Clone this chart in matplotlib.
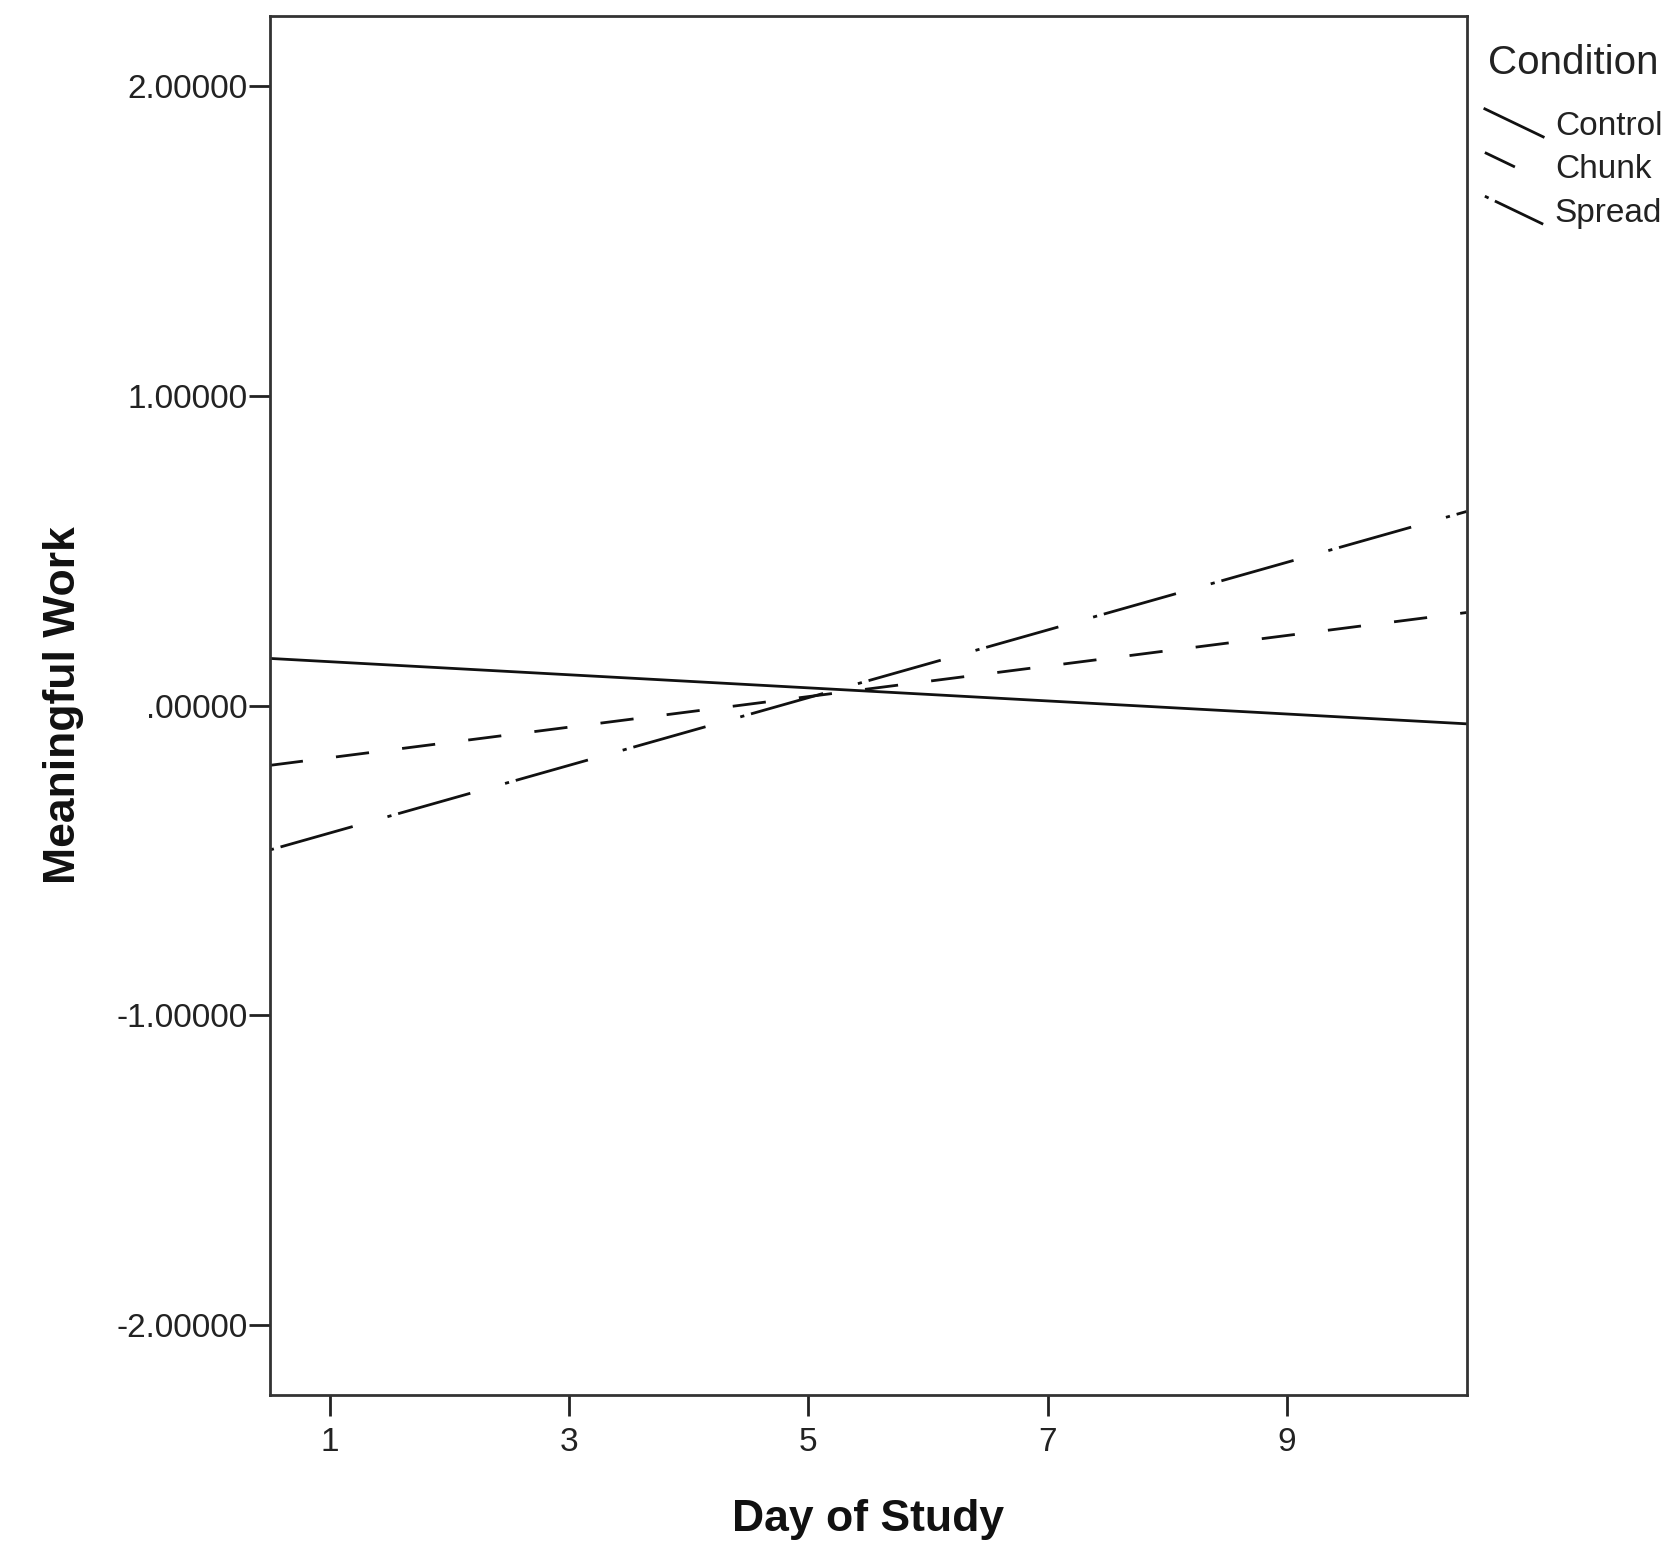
import matplotlib
matplotlib.use('Agg')
import matplotlib.pyplot as plt
from matplotlib.ticker import FuncFormatter
from matplotlib.legend_handler import HandlerLine2D
from matplotlib.lines import Line2D

plt.rcParams['font.family'] = ['Liberation Sans', 'DejaVu Sans']

# Fitted lines (read at the left and right edges of the plot)
day = [0.5, 10.5]
control = [0.152, -0.059]
chunk = [-0.193, 0.300]
spread = [-0.466, 0.626]

x_ticks = [1, 3, 5, 7, 9]
y_ticks = [-2, -1, 0, 1, 2]


class DiagHandler(HandlerLine2D):
    # legend sample drawn as a short diagonal stroke
    def create_artists(self, legend, orig_handle, xdescent, ydescent,
                       width, height, fontsize, trans):
        line = Line2D([-xdescent, -xdescent + width],
                      [height * 1.1, -height * 0.1])
        self.update_prop(line, orig_handle, legend)
        line.set_transform(trans)
        return [line]


def spss_fmt(v, pos):
    s = '%.5f' % v
    if s.startswith('0.'):
        s = s[1:]
    elif s.startswith('-0.'):
        s = '-' + s[2:]
    return s


fig = plt.figure(figsize=(16.76, 15.43), dpi=100)
ax = fig.add_axes([0.161, 0.096, 0.714, 0.8935])

ax.plot(day, control, color='#111111', lw=2, label='Control')
ax.plot(day, chunk, color='#111111', lw=2, dashes=(12, 12), label='Chunk')
ax.plot(day, spread, color='#111111', lw=2, dashes=(1.5, 2.5, 27, 13), label='Spread')

ax.set_xlim(0.5, 10.5)
ax.set_ylim(-2.224, 2.224)
ax.set_xticks(x_ticks)
ax.set_yticks(y_ticks)
ax.yaxis.set_major_formatter(FuncFormatter(spss_fmt))

for s in ax.spines.values():
    s.set_linewidth(2)
    s.set_color('#333333')
ax.tick_params(direction='out', length=15, width=2, color='#222222',
               labelsize=24, labelcolor='#222222')
ax.tick_params(axis='y', pad=1)
ax.tick_params(axis='x', pad=8)

ax.set_xlabel('Day of Study', fontsize=32, fontweight='bold', color='#111111', labelpad=30)
ax.set_ylabel('Meaningful Work', fontsize=32, fontweight='bold', color='#111111', labelpad=23)

# legend title placed separately so the gap under it can match
fig.text(0.888, 0.959, 'Condition', fontsize=29, color='#222222', va='center', ha='left')
leg = fig.legend(handles=ax.get_lines(), loc='upper left',
                 bbox_to_anchor=(0.878, 0.937), frameon=False, fontsize=24,
                 handlelength=1.75, handletextpad=0.35,
                 labelspacing=0.38, borderaxespad=0,
                 handler_map={Line2D: DiagHandler()})
for t in leg.get_texts():
    t.set_color('#222222')

fig.savefig('out.png', dpi=100, facecolor='white')
